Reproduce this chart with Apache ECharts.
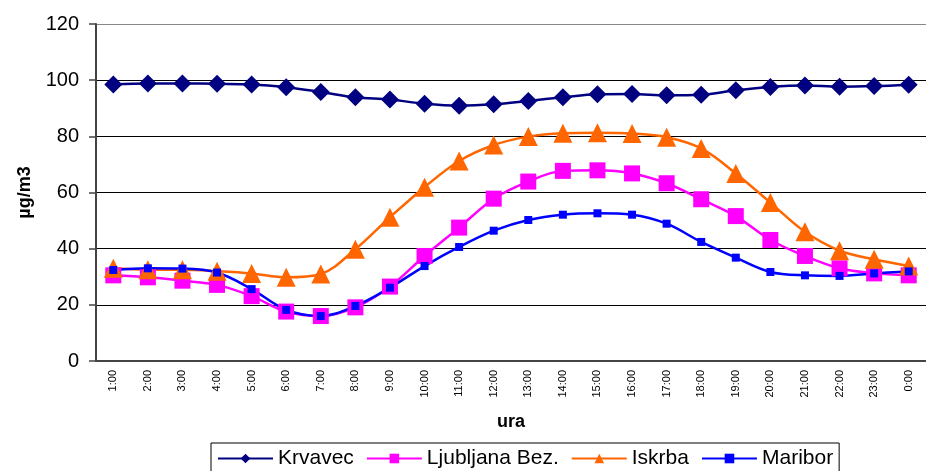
<!DOCTYPE html>
<html>
<head>
<meta charset="utf-8">
<script src="https://cdn.jsdelivr.net/npm/echarts@6/dist/echarts.min.js"></script>
<style>
  html, body { margin: 0; padding: 0; background: #fff; }
  #chart { width: 926px; height: 471px; }
</style>
</head>
<body>
<div id="chart"></div>
<script>
"use strict";

// ure
let hours = ['1:00', '2:00', '3:00', '4:00', '5:00', '6:00', '7:00', '8:00', '9:00', '10:00', '11:00', '12:00',
  '13:00', '14:00', '15:00', '16:00', '17:00', '18:00', '19:00', '20:00', '21:00', '22:00', '23:00', '0:00'];

// koncentracije (µg/m3)
let krvavec = [98.5, 98.8, 98.8, 98.7, 98.5, 97.5, 95.8, 93.9, 93.1, 91.6, 90.9, 91.4,
  92.6, 93.9, 95.0, 95.1, 94.6, 94.8, 96.4, 97.6, 98.1, 97.7, 97.9, 98.4];
let ljubljana = [30.5, 29.8, 28.6, 27.1, 23.1, 17.6, 16.0, 19.1, 26.5, 37.4, 47.5, 57.8,
  63.9, 67.7, 67.9, 66.8, 63.3, 57.6, 51.6, 43.1, 37.4, 33.0, 31.2, 30.5];
let iskrba = [33.0, 32.5, 32.5, 32.0, 31.2, 29.8, 31.0, 39.8, 51.2, 61.9, 71.2, 76.9,
  79.9, 81.1, 81.3, 81.0, 79.7, 75.7, 66.8, 56.4, 46.0, 39.3, 36.2, 33.8];
let maribor = [32.4, 33.0, 32.9, 31.5, 25.6, 18.2, 16.0, 19.6, 26.1, 33.8, 40.6, 46.4,
  50.2, 52.1, 52.6, 52.1, 48.9, 42.4, 36.8, 31.7, 30.5, 30.3, 31.2, 31.9];

let font = 'Liberation Sans, Arial, sans-serif';

let myChart = echarts.init(document.getElementById('chart'));

function lineSeries(name, data, color, symbol, size) {
  return {
    name: name,
    type: 'line',
    data: data,
    smooth: 0.35,
    symbol: symbol,
    symbolSize: size,
    showAllSymbol: true,
    lineStyle: { color: color, width: 2.5 },
    itemStyle: { color: color },
    emphasis: { disabled: true },
  };
}

let option = {
  animation: false,
  textStyle: { fontFamily: font },
  grid: { // risalna ploskev
    left: 96,
    top: 24,
    right: -7,
    bottom: 110,
  },
  legend: { // legenda
    left: 211,
    top: 443,
    padding: [5, 6, 8, 6],
    borderColor: '#000',
    borderWidth: 1,
    itemWidth: 55,
    itemHeight: 12,
    itemGap: 12,
    textStyle: { fontSize: 21, color: '#000', fontFamily: font },
    data: ['Krvavec', 'Ljubljana Bez.', 'Iskrba', 'Maribor'],
  },
  xAxis: {
    type: 'category',
    data: hours,
    boundaryGap: true,
    name: 'ura',
    nameLocation: 'middle',
    nameGap: 52,
    nameTextStyle: { fontSize: 18, fontWeight: 'bold', color: '#000', fontFamily: font },
    axisLine: { lineStyle: { color: '#444', width: 2 } },
    axisTick: { interval: 0, length: 5, lineStyle: { color: '#444', width: 1.5 } },
    axisLabel: { interval: 0, rotate: 90, fontSize: 11, color: '#000', margin: 9 },
  },
  yAxis: {
    type: 'value',
    min: 0,
    max: 120,
    interval: 20,
    name: 'µg/m3',
    nameLocation: 'middle',
    nameRotate: 90,
    nameGap: 62,
    nameTextStyle: { fontSize: 18, fontWeight: 'bold', color: '#000', fontFamily: font },
    axisLine: { show: true, lineStyle: { color: '#444', width: 2 } },
    axisTick: { show: true, length: 7, lineStyle: { color: '#444', width: 1.5 } },
    axisLabel: { fontSize: 20, color: '#000', margin: 17 },
    splitLine: {
      lineStyle: { color: ['#000', '#000', '#000', '#000', '#000', '#000', '#888'], width: 1 },
    },
  },
  series: [
    lineSeries('Krvavec', krvavec, '#000080', 'diamond', 18),
    lineSeries('Ljubljana Bez.', ljubljana, '#ff00ff', 'rect', 16),
    lineSeries('Iskrba', iskrba, '#ff6600', 'triangle', 19),
    lineSeries('Maribor', maribor, '#0000ff', 'rect', 8),
  ],
};

myChart.setOption(option);
</script>
</body>
</html>
